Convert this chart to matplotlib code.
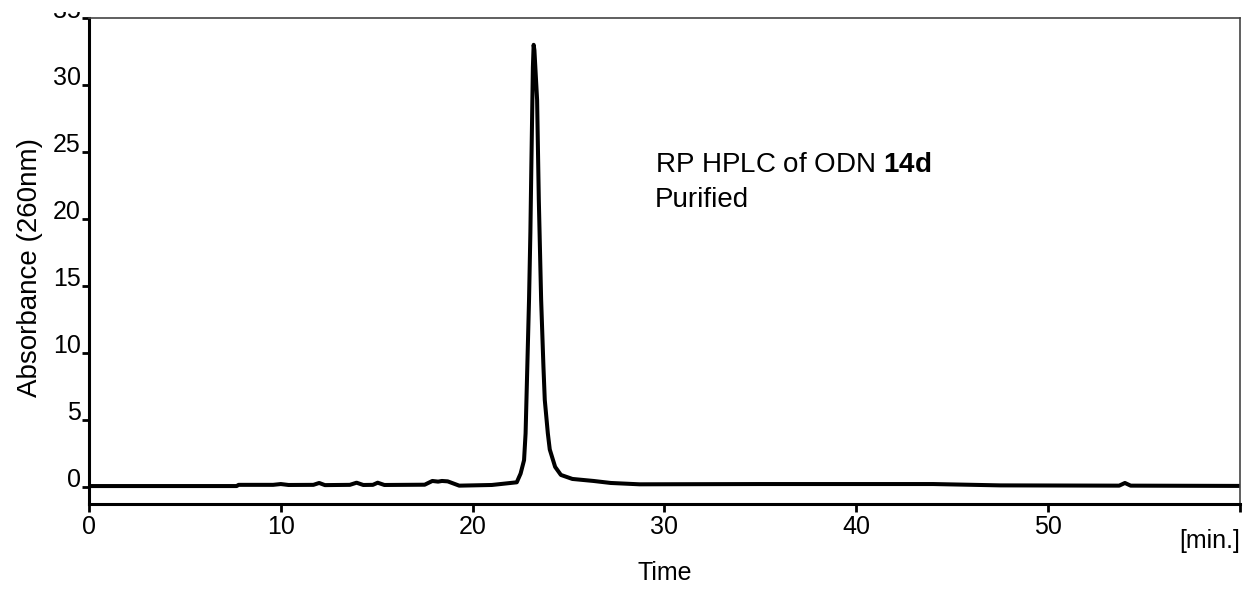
import matplotlib.pyplot as plt
from matplotlib.patches import Rectangle

plt.rcParams['font.family'] = ['Liberation Sans', 'DejaVu Sans']
plt.rcParams['mathtext.fontset'] = 'custom'
plt.rcParams['mathtext.rm'] = 'Liberation Sans'
plt.rcParams['mathtext.bf'] = 'Liberation Sans:bold'

# === CHROMATOGRAM TRACE ===

time_min = [
    0.0, 7.7, 7.8, 9.6, 10.0, 10.4, 11.7, 12.0, 12.3, 13.6, 13.95, 14.3,
    14.8, 15.05, 15.4, 17.5, 17.9, 18.2, 18.4, 18.7, 19.3, 21.0, 22.3,
    22.5, 22.68, 22.76, 22.85, 22.94, 23.01, 23.06, 23.14, 23.18, 23.22,
    23.36, 23.45, 23.57, 23.69, 23.76, 23.92, 24.02, 24.3, 24.6, 25.2,
    26.3, 27.2, 28.7, 35.0, 44.0, 47.5, 53.7, 54.0, 54.3, 60.0
]
absorbance = [
    0.07, 0.07, 0.16, 0.16, 0.22, 0.15, 0.16, 0.3, 0.14, 0.16, 0.32, 0.15,
    0.16, 0.32, 0.15, 0.17, 0.45, 0.4, 0.45, 0.42, 0.1, 0.15, 0.35,
    1.0, 2.0, 4.0, 9.0, 14.0, 19.0, 23.9, 31.3, 33.0, 32.6,
    28.9, 21.4, 14.0, 9.0, 6.5, 4.0, 2.8, 1.5, 0.9, 0.6,
    0.45, 0.3, 0.2, 0.22, 0.22, 0.12, 0.1, 0.3, 0.1, 0.08
]

x_ticks = [0, 10, 20, 30, 40, 50, 60]
x_tick_labels = ["0", "10", "20", "30", "40", "50", ""]
y_ticks = [0, 5, 10, 15, 20, 25, 30, 35]

# === FIGURE ===

fig = plt.figure(figsize=(12.44, 5.89), dpi=100)
ax = fig.add_axes([0.0715, 0.1443, 0.9253, 0.8251])

ax.plot(time_min, absorbance, color='black', linewidth=2.9,
        solid_joinstyle='round', solid_capstyle='round')

ax.set_xlim(0, 60)
ax.set_ylim(-1.27, 35)

# === AXIS AND STYLING ===

ax.spines['left'].set_linewidth(2.2)
ax.spines['bottom'].set_linewidth(2.2)
for s in ['top', 'right']:
    ax.spines[s].set_linewidth(1.2)
    ax.spines[s].set_color('#444444')

ax.set_xticks(x_ticks)
ax.set_xticklabels(x_tick_labels, fontsize=18)
ax.set_yticks(y_ticks)
ax.set_yticklabels([str(v) for v in y_ticks], fontsize=18)
ax.tick_params(axis='x', direction='out', length=6, width=2, pad=2)
ax.tick_params(axis='y', direction='out', length=5, width=2, pad=1)
for lbl in ax.get_yticklabels():
    lbl.set_va('baseline')

ax.set_ylabel("Absorbance (260nm)", fontsize=20)
ax.yaxis.set_label_coords(-0.040, 0.486)
ax.set_xlabel("Time", fontsize=18, labelpad=16)
ax.text(1.0, -0.052, "[min.]", transform=ax.transAxes, ha='right', va='top',
        fontsize=18)

ax.text(29.5, 23.5, "RP HPLC of ODN $\\mathbf{14d}$", fontsize=20,
        ha='left', va='baseline')
ax.text(29.5, 20.9, "Purified", fontsize=20, ha='left', va='baseline')

# the original is cropped just above the top tick label
fig.patches.append(Rectangle((0, 0.9796), 1, 0.03, transform=fig.transFigure,
                             facecolor='white', edgecolor='none', zorder=10))

fig.savefig("out.png", dpi=100)
